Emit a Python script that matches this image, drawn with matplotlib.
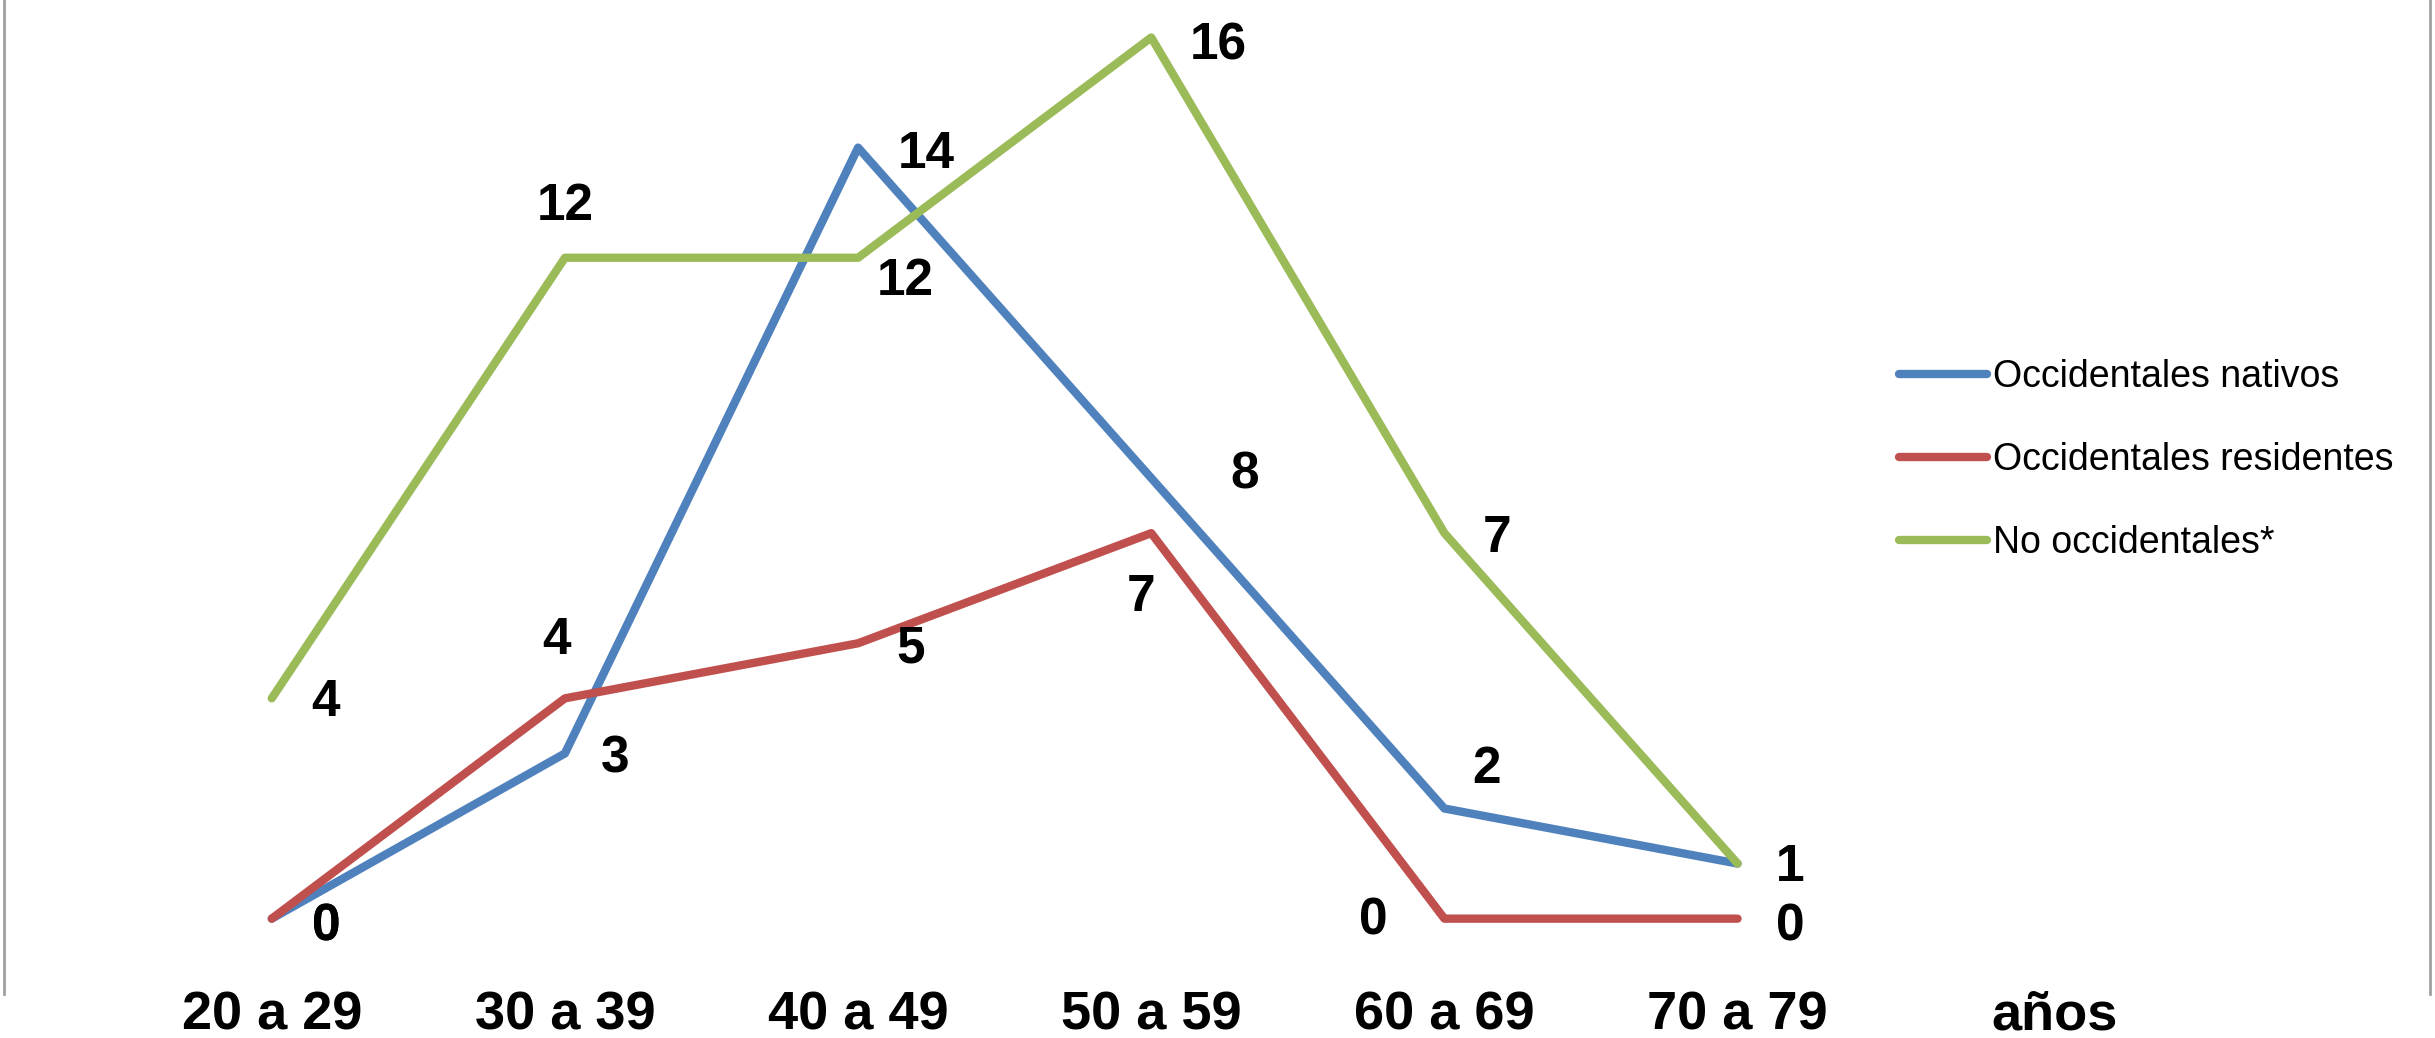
import matplotlib
matplotlib.use("Agg")
import matplotlib.pyplot as plt
from matplotlib.lines import Line2D

plt.rcParams['font.family'] = ['Liberation Sans', 'DejaVu Sans']

categorias = ['20 a 29', '30 a 39', '40 a 49', '50 a 59', '60 a 69', '70 a 79']
nativos = [0, 3, 14, 8, 2, 1]
residentes = [0, 4, 5, 7, 0, 0]
no_occ = [4, 12, 12, 16, 7, 1]
nombres = ['Occidentales nativos', 'Occidentales residentes', 'No occidentales*']
colores = ['#4F81BD', '#C0504D', '#9BBB59']

# desplazamientos de las etiquetas (puntos)
offs_nat = [(39, -6), (36, -4), (49, -5), (67, 2), (30, 28), (38, -3)]
offs_res = [(39, -6), (-6, 42), (38, -4), (-7, -46), (-51, -2), (38, -6)]
offs_no = [(39, -3), (0, 37), (34, -17), (48, -6), (38, -4), (38, -3)]

fig = plt.figure(figsize=(24.35, 10.38), dpi=100)
ax = fig.add_axes([0, 0, 1, 1])
ax.set_xlim(-0.927, 7.379)
ax.set_ylim(-2.167, 16.68)
ax.axis('off')

x = range(len(categorias))
series = [nativos, residentes, no_occ]
offs = [offs_nat, offs_res, offs_no]
for vals, c, nom, of in zip(series, colores, nombres, offs):
    ax.plot(x, vals, color=c, lw=6, label=nom, solid_capstyle='round')
    for xi, v, (dx, dy) in zip(x, vals, of):
        ax.annotate(str(v), (xi, v), xytext=(dx, dy), textcoords='offset points',
                    ha='center', va='center', fontsize=37, fontweight='bold')

for xi, cat in zip(x, categorias):
    ax.text(xi, -1.75, cat, ha='center', va='center', fontsize=39, fontweight='bold')
ax.text(6.08, -1.75, 'años', ha='center', va='center', fontsize=39, fontweight='bold')

# bordes grises laterales
fig.add_artist(Line2D([0.0015, 0.0015], [0.042, 1], color='#A0A0A0', lw=2))
fig.add_artist(Line2D([0.998, 0.998], [0.042, 1], color='#A0A0A0', lw=2))

ax.legend(loc='center left', bbox_to_anchor=(0.766, 0.557), frameon=False,
          fontsize=27, labelspacing=1.25, handlelength=2.35, handletextpad=0.15)

fig.savefig('out.png', dpi=100)
